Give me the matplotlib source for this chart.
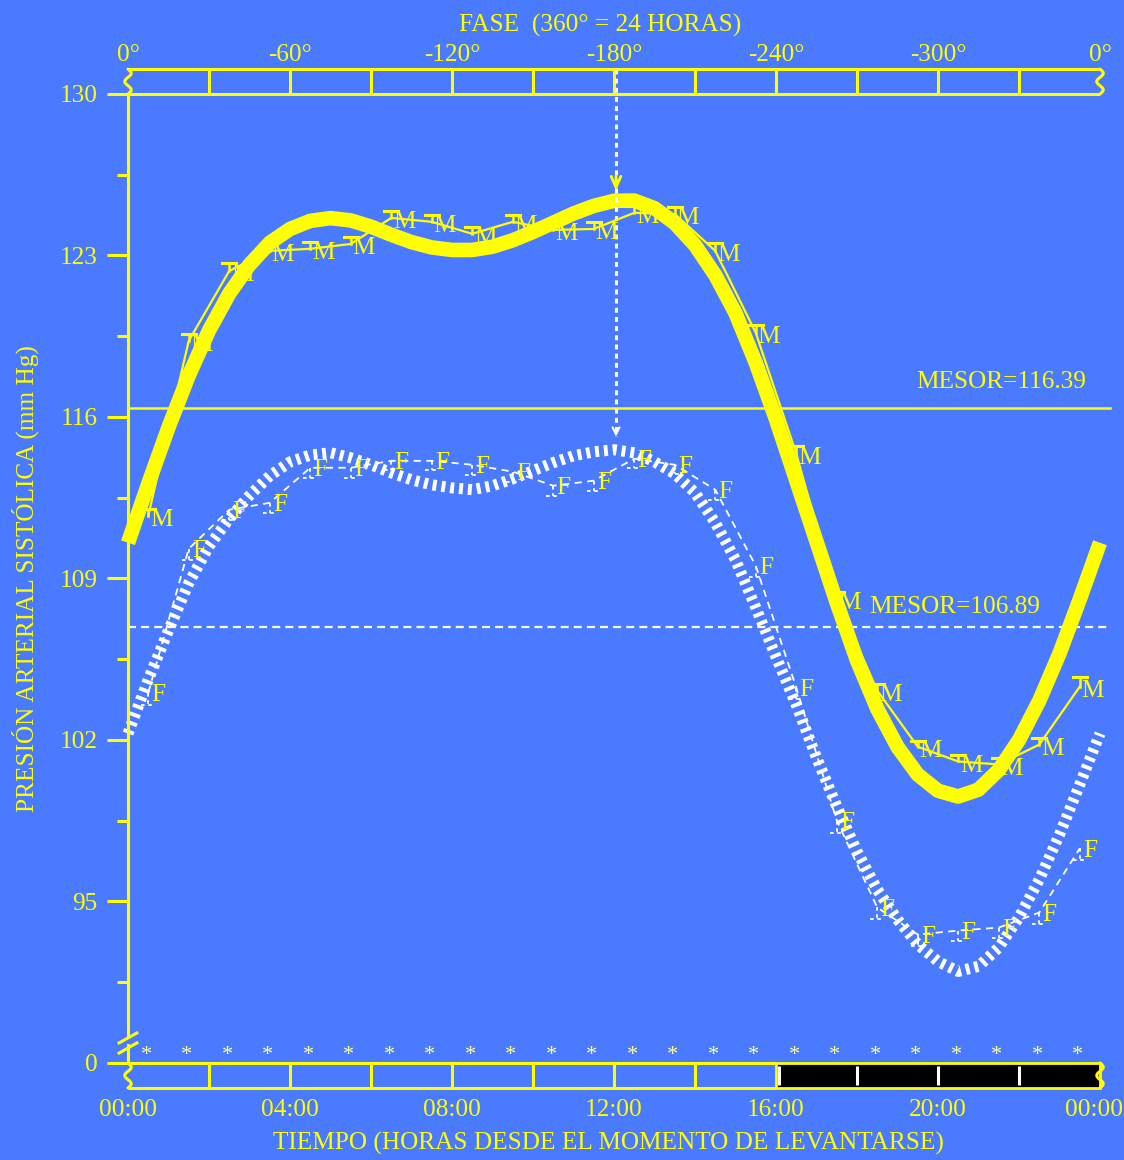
import numpy as np
import matplotlib.pyplot as plt
import matplotlib.transforms as mtransforms
from matplotlib.patches import Rectangle

plt.rcParams['font.family'] = ['Liberation Serif', 'DejaVu Serif']

AZUL = '#4a7aff'
AMARILLO = '#ffff00'
BLANCO = '#ffffff'
TAM = 18.2

#%% datos
# ajuste cosinor (mm Hg) cada media hora, de 00:00 a 24:00
horas_ajuste = np.arange(0, 24.5, 0.5)
ajuste_M = [110.55, 113.10, 115.55, 117.80, 119.75, 121.35, 122.60, 123.55, 124.15, 124.50,
            124.62, 124.52, 124.25, 123.90, 123.58, 123.35, 123.24, 123.24, 123.38, 123.66,
            124.02, 124.42, 124.82, 125.15, 125.37, 125.38, 125.05, 124.40, 123.45, 122.15,
            120.50, 118.35, 115.90, 113.25, 110.60, 107.95, 105.45, 103.35, 101.70, 100.50,
            99.80, 99.55, 99.85, 100.70, 102.00, 103.70, 105.75, 108.10, 110.55]
ajuste_F = [102.28, 104.62, 106.75, 108.80, 110.40, 111.60, 112.60, 113.45, 114.05, 114.35,
            114.45, 114.23, 113.93, 113.58, 113.28, 113.06, 112.93, 112.85, 113.02, 113.32,
            113.67, 114.02, 114.32, 114.49, 114.58, 114.45, 114.06, 113.54, 112.72, 111.42,
            109.81, 107.74, 105.61, 103.53, 101.24, 99.12, 97.17, 95.52, 94.22, 93.14,
            92.40, 91.97, 92.19, 93.01, 94.31, 95.95, 97.90, 100.07, 102.28]

# medias horarias y error estandar
horas_datos = np.arange(0.5, 24, 1.0)
datos_M = [111.72, 119.30, 122.33, 123.20, 123.29, 123.50, 124.63, 124.46, 123.94, 124.46,
           124.11, 124.15, 124.85, 124.80, 123.20, 119.65, 114.41, 108.13, 104.14, 101.71,
           101.07, 100.94, 101.80, 104.31]
datos_F = [104.05, 110.29, 111.98, 112.28, 113.80, 113.80, 114.10, 114.10, 113.93, 113.63,
           113.02, 113.24, 114.19, 113.93, 112.85, 109.55, 104.27, 98.51, 94.74, 93.57,
           93.74, 93.87, 94.52, 97.30]
ee_M = [0.30, 0.30, 0.35, 0.30, 0.30, 0.30, 0.30, 0.30, 0.30, 0.30, 0.30, 0.30,
        0.30, 0.30, 0.35, 0.35, 0.35, 0.30, 0.30, 0.25, 0.30, 0.30, 0.30, 0.40]
ee_F = [0.55, 0.50, 0.45, 0.45, 0.45, 0.45, 0.40, 0.40, 0.45, 0.45, 0.45, 0.45,
        0.40, 0.40, 0.45, 0.50, 0.50, 0.55, 0.50, 0.50, 0.45, 0.45, 0.50, 0.50]

mesor_M = 116.39
mesor_F = 106.89
acrofase = 12.05  # horas

ticks_y = [88, 95, 102, 109, 116, 123, 130]
etiquetas_y = ['0', '95', '102', '109', '116', '123', '130']
ticks_menores_y = [91.5, 98.5, 105.5, 112.5, 119.5, 126.5]
ticks_x = [0, 4, 8, 12, 16, 20, 24]
etiquetas_x = ['00:00', '04:00', '08:00', '12:00', '16:00', '20:00', '00:00']
etiquetas_fase = ['0°', '-60°', '-120°', '-180°', '-240°', '-300°', '0°']

#%% figura
fig = plt.figure(figsize=(11.24, 11.6), dpi=100, facecolor=AZUL)
ax = fig.add_axes([128/1124, 97/1160, 972/1124, 969/1160], facecolor=AZUL)
ax.set_xlim(0, 24)
ax.set_ylim(88, 130)

for lado in ['top', 'right', 'bottom']:
    ax.spines[lado].set_visible(False)
ax.spines['left'].set_color(AMARILLO)
ax.spines['left'].set_linewidth(2.2)
ax.spines['left'].set_bounds(89.21, 130)

ax.set_yticks(ticks_y, etiquetas_y)
ax.set_yticks(ticks_menores_y, minor=True)
ax.tick_params(axis='y', which='major', length=15, width=2.2, color=AMARILLO,
               labelcolor=AMARILLO, labelsize=TAM, pad=7)
ax.tick_params(axis='y', which='minor', length=8, width=2.2, color=AMARILLO)
ax.set_ylabel('PRESIÓN ARTERIAL SISTÓLICA (mm Hg)', color=AMARILLO, fontsize=TAM, labelpad=15)

ax.set_xticks(ticks_x, etiquetas_x)
ax.tick_params(axis='x', length=0, labelcolor=AMARILLO, labelsize=TAM, pad=26)
ax.set_xlabel('TIEMPO (HORAS DESDE EL MOMENTO DE LEVANTARSE)', color=AMARILLO,
              fontsize=TAM, labelpad=8, x=(608 - 128)/972)
# la ultima etiqueta horaria un poco hacia dentro
ult = ax.get_xticklabels()[-1]
ult.set_transform(ult.get_transform() + mtransforms.ScaledTranslation(-4/72, 0, fig.dpi_scale_trans))

sec = ax.secondary_xaxis('top')
sec.set_xticks(ticks_x, etiquetas_fase)
sec.tick_params(length=0, labelcolor=AMARILLO, labelsize=TAM, pad=20)
sec.spines['top'].set_visible(False)
sec.set_xlabel('FASE  (360° = 24 HORAS)', color=AMARILLO, fontsize=TAM, labelpad=9,
               x=(600 - 128)/972)

# corte del eje y
ax.plot([0, 0], [88, 88.78], color=AMARILLO, lw=2.2, clip_on=False)
ax.plot([-0.22, 0.22], [88.87, 89.30], color=AMARILLO, lw=2.2, clip_on=False)
ax.plot([-0.22, 0.22], [88.43, 88.87], color=AMARILLO, lw=2.2, clip_on=False)


def quiebre(x0, y0, y1):
    s = np.linspace(0, 1, 40)
    ax.plot(x0 + 0.08*np.sin(3*np.pi*s), y0 + (y1 - y0)*s, color=AMARILLO, lw=2.2,
            clip_on=False, solid_capstyle='round')


# escala de fase (arriba)
ax.hlines([130, 131.08], 0, 24, color=AMARILLO, lw=2.2, clip_on=False)
ax.vlines(np.arange(2, 24, 2), 130, 131.08, color=AMARILLO, lw=2.2, clip_on=False)
quiebre(0, 131.08, 130)
quiebre(24, 131.08, 130)

# escala horaria (abajo) con periodo de descanso en negro
ax.hlines([88, 86.92], 0, 16, color=AMARILLO, lw=2.2, clip_on=False)
ax.vlines(np.arange(2, 16, 2), 86.92, 88, color=AMARILLO, lw=2.2, clip_on=False)
ax.add_patch(Rectangle((16, 86.92), 8, 1.08, facecolor='black', edgecolor=AMARILLO,
                       lw=2, clip_on=False))
ax.vlines([16.08, 18, 20, 22], 87.05, 87.87, color=BLANCO, lw=2.2, clip_on=False)
quiebre(0, 88, 86.92)
quiebre(24, 88, 86.92)

for h in horas_datos:
    ax.text(h - 0.05, 88.32, '*', color='#ffff90', fontsize=16, ha='center', va='center',
            clip_on=False)

# mesores
ax.plot([0, 24.25], [mesor_M, mesor_M], color=AMARILLO, lw=1.8, clip_on=False)
ax.plot([0, 24.25], [mesor_F, mesor_F], color=BLANCO, lw=1.6, ls=(0, (3.6, 2.3)),
        clip_on=False)
ax.text(21.55, mesor_M + 1.12, 'MESOR=116.39', color=AMARILLO, fontsize=TAM,
        ha='center', va='center')
ax.text(20.42, mesor_F + 0.87, 'MESOR=106.89', color=AMARILLO, fontsize=TAM,
        ha='center', va='center')

# curvas de ajuste
ax.plot(horas_ajuste, ajuste_M, color=AMARILLO, lw=10.5, solid_joinstyle='round',
        solid_capstyle='butt', clip_on=False)
ax.plot(horas_ajuste, ajuste_F, color=BLANCO, lw=8, ls=(0, (0.35, 0.45)),
        dash_capstyle='butt', clip_on=False)

# acrofase
pico_M = max(ajuste_M)
pico_F = max(ajuste_F)
ax.plot([acrofase, acrofase], [131.08, pico_F + 0.6], color=BLANCO, lw=2.2,
        ls=(0, (1.6, 1.4)), clip_on=False)
ax.annotate('', xy=(acrofase, pico_M + 0.3), xytext=(acrofase, pico_M + 1.2),
            arrowprops=dict(arrowstyle='->,head_length=0.8,head_width=0.35', color=AMARILLO, lw=2))
ax.annotate('', xy=(acrofase, pico_F + 0.45), xytext=(acrofase, pico_F + 0.9),
            arrowprops=dict(arrowstyle='->,head_length=0.5,head_width=0.25', color=BLANCO, lw=1.5))

# medias horarias
ax.plot(horas_datos, datos_M, color=AMARILLO, lw=1.6)
ax.plot(horas_datos, datos_F, color=BLANCO, lw=1.3, ls=(0, (4, 3)))

medio_cap = 0.17
for h, m, e in zip(horas_datos, datos_M, ee_M):
    ax.plot([h, h], [m, m + e], color=AMARILLO, lw=1.8)
    ax.plot([h - medio_cap, h + medio_cap], [m + e, m + e], color=AMARILLO, lw=2.2)
    ax.annotate('M', (h, m), xytext=(9.5, -3), textcoords='offset points', ha='center',
                va='center', color=AMARILLO, fontsize=TAM)
for h, f, e in zip(horas_datos, datos_F, ee_F):
    ax.plot([h, h], [f, f - e], color=BLANCO, lw=1.3, ls=(0, (2, 2)))
    ax.plot([h - medio_cap, h + medio_cap], [f - e, f - e], color=BLANCO, lw=1.3,
            ls=(0, (2, 2)))
    ax.annotate('F', (h, f), xytext=(7.5, -1.5), textcoords='offset points', ha='center',
                va='center', color=AMARILLO, fontsize=TAM)

fig.savefig('out.png', dpi=100, facecolor=AZUL)
